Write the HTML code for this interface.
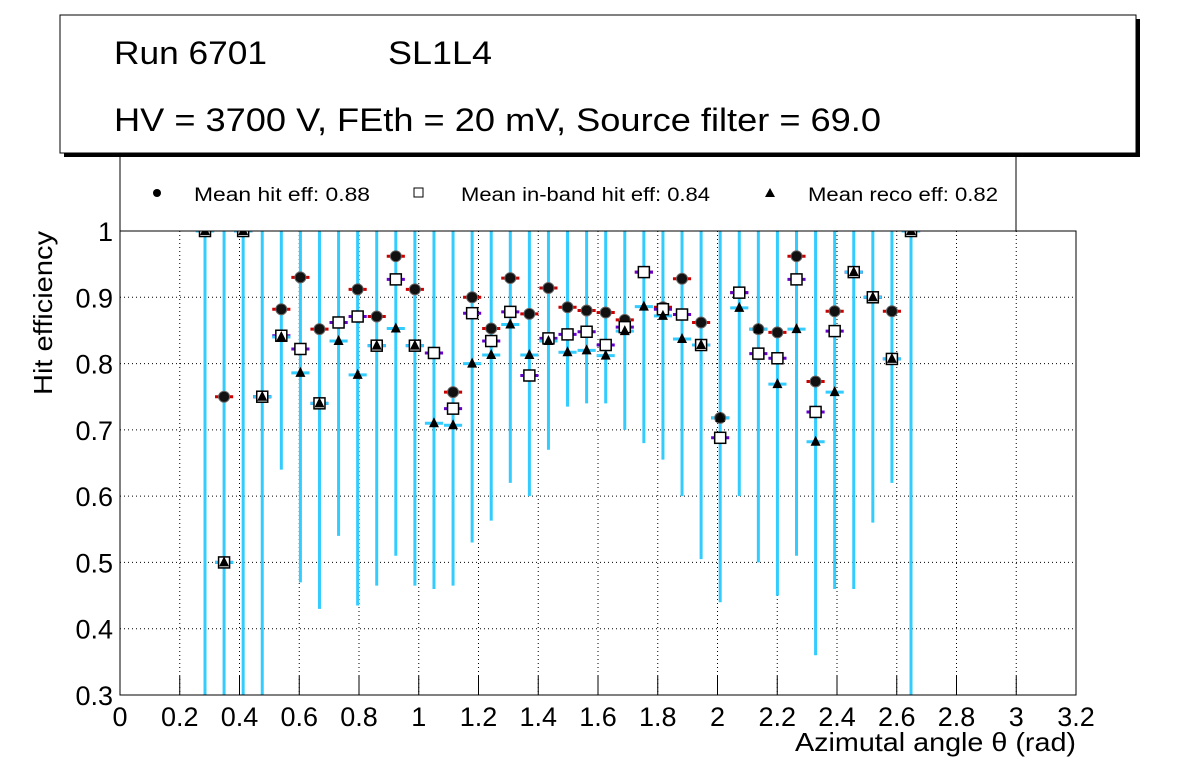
<!DOCTYPE html>
<html><head><meta charset="utf-8"><style>
html,body{margin:0;padding:0;background:#fff;}
svg{display:block;font-family:"Liberation Sans",sans-serif;}
</style></head><body>
<svg id="chart" width="1196" height="772" viewBox="0 0 1196 772">
<defs><clipPath id="frameclip"><rect x="120" y="231" width="956" height="464"/></clipPath></defs>
<rect x="64" y="19" width="1076" height="138" fill="#000"/>
<rect x="60" y="15" width="1076" height="138" fill="#fff" stroke="#000" stroke-width="1"/>
<text x="114" y="64" font-size="32" textLength="153" lengthAdjust="spacingAndGlyphs">Run 6701</text>
<text x="388" y="64" font-size="32" textLength="104" lengthAdjust="spacingAndGlyphs">SL1L4</text>
<text x="114" y="131" font-size="32" textLength="767" lengthAdjust="spacingAndGlyphs">HV = 3700 V, FEth = 20 mV, Source filter = 69.0</text>
<g>
<line x1="120" y1="157" x2="120" y2="231" stroke="#000"/>
<line x1="1016" y1="157" x2="1016" y2="231" stroke="#000"/>
<circle cx="157" cy="193" r="4" fill="#000"/>
<text x="194" y="201" font-size="19" textLength="176" lengthAdjust="spacingAndGlyphs">Mean hit  eff: 0.88</text>
<rect x="414" y="188" width="9" height="9" fill="#fff" stroke="#000"/>
<text x="461" y="201" font-size="19" textLength="249" lengthAdjust="spacingAndGlyphs">Mean in-band hit eff: 0.84</text>
<polygon points="770,188 775,197 765,197" fill="#000"/>
<text x="808" y="201" font-size="19" textLength="190" lengthAdjust="spacingAndGlyphs">Mean reco eff: 0.82</text>
</g>
<g id="grid"></g>
<g id="marks" clip-path="url(#frameclip)"></g>
<rect x="120" y="231" width="956" height="464" fill="none" stroke="#000"/>
<g id="axes"></g>
<text x="795" y="751" font-size="26" textLength="281" lengthAdjust="spacingAndGlyphs">Azimutal angle θ (rad)</text>
<text transform="translate(52,231) rotate(-90)" font-size="26" text-anchor="end" textLength="164" lengthAdjust="spacingAndGlyphs">Hit efficiency</text>
</svg>
<script>
const xStart = 0.2845, binW = 0.06387;
const hitEff = [1,0.75,1,0.75,0.882,0.93,0.852,0.862,0.912,0.871,0.962,0.912,0.816,0.757,0.9,0.853,0.929,0.875,0.914,0.885,0.88,0.877,0.866,0.938,0.885,0.928,0.862,0.718,0.907,0.852,0.847,0.962,0.773,0.879,0.938,0.9,0.879,1];
const inbandEff = [1,0.5,1,0.75,0.842,0.822,0.74,0.862,0.871,0.827,0.927,0.827,0.816,0.732,0.876,0.834,0.878,0.782,0.838,0.844,0.848,0.828,0.855,0.938,0.882,0.874,0.828,0.688,0.907,0.815,0.808,0.927,0.727,0.849,0.938,0.9,0.807,1];
const recoEff = [1,0.5,1,0.75,0.84,0.786,0.74,0.834,0.783,0.827,0.853,0.827,0.71,0.707,0.80,0.813,0.859,0.813,0.834,0.817,0.82,0.812,0.849,0.886,0.872,0.837,0.828,0.718,0.884,0.852,0.769,0.852,0.682,0.757,0.938,0.9,0.807,1];
const recoLow = [0.3,0.3,0.3,0.3,0.64,0.47,0.43,0.54,0.435,0.465,0.51,0.465,0.46,0.465,0.53,0.563,0.62,0.6,0.67,0.735,0.74,0.74,0.70,0.68,0.655,0.60,0.505,0.44,0.60,0.50,0.45,0.51,0.36,0.46,0.46,0.56,0.62,0.3];
const xTicks = [0,0.2,0.4,0.6,0.8,1,1.2,1.4,1.6,1.8,2,2.2,2.4,2.6,2.8,3,3.2];
const xTickLabels = ["0","0.2","0.4","0.6","0.8","1","1.2","1.4","1.6","1.8","2","2.2","2.4","2.6","2.8","3","3.2"];
const yTicks = [0.3,0.4,0.5,0.6,0.7,0.8,0.9,1];
const yTickLabels = ["0.3","0.4","0.5","0.6","0.7","0.8","0.9","1"];

const NS = "http://www.w3.org/2000/svg";
const X = v => 120 + v * (956 / 3.2);
const Y = v => 695 - (v - 0.3) * (464 / 0.7);
function mk(tag, attrs, parent) {
  const e = document.createElementNS(NS, tag);
  for (const k in attrs) e.setAttribute(k, attrs[k]);
  parent.appendChild(e);
  return e;
}
const grid = document.getElementById('grid');
const axes = document.getElementById('axes');
const marks = document.getElementById('marks');
xTicks.forEach((t, i) => {
  if (i > 0 && i < xTicks.length - 1) {
    const g = mk('line', {x1: X(t), x2: X(t), y1: 231, y2: 695, stroke: '#000', 'stroke-width': 1, 'stroke-dasharray': '1,3'}, grid);
    
    
  }
  const tk = mk('line', {x1: X(t), x2: X(t), y1: 695, y2: 676, stroke: '#000'}, axes);
  
  
  const lb = mk('text', {x: X(t), y: 726, 'font-size': 27, 'text-anchor': 'middle'}, axes);
  lb.textContent = xTickLabels[i];
  
  
});
yTicks.forEach((t, i) => {
  if (i > 0 && i < yTicks.length - 1) {
    const g = mk('line', {x1: 120, x2: 1076, y1: Y(t), y2: Y(t), stroke: '#000', 'stroke-width': 1, 'stroke-dasharray': '1,3'}, grid);
    
    
  }
  const lb = mk('text', {x: 113, y: Y(t) + 10, 'font-size': 27, 'text-anchor': 'end'}, axes);
  lb.textContent = yTickLabels[i];
  
  
});
const hw = binW / 2 * 0.95;
recoEff.forEach((v, i) => {
  const cx = xStart + i * binW;
  const vb = mk('line', {x1: X(cx), x2: X(cx), y1: Y(1), y2: Y(recoLow[i]), stroke: '#33ccff', 'stroke-width': 3}, marks);
  
  
});
function hbar(vals, color, name) {
  vals.forEach((v, i) => {
    const cx = xStart + i * binW;
    const l = mk('line', {x1: X(cx - hw), x2: X(cx + hw), y1: Y(v), y2: Y(v), stroke: color, 'stroke-width': 3}, marks);
    
    
  });
}
hbar(hitEff, '#cc0000', 'hit-x-error');
hbar(inbandEff, '#6600cc', 'inband-x-error');
hbar(recoEff, '#33ccff', 'reco-x-error');
hitEff.forEach((v, i) => {
  const cx = xStart + i * binW;
  const c = mk('circle', {cx: X(cx), cy: Y(v), r: 5.5, fill: '#111', stroke: '#666', 'stroke-width': 1}, marks);
  
  
});
inbandEff.forEach((v, i) => {
  const cx = xStart + i * binW;
  const r = mk('rect', {x: X(cx) - 5.5, y: Y(v) - 5.5, width: 11, height: 11, fill: '#fff', stroke: '#000', 'stroke-width': 1.5}, marks);
  
  
});
recoEff.forEach((v, i) => {
  const cx = X(xStart + i * binW), cy = Y(v);
  const p = mk('polygon', {points: `${cx},${cy - 6} ${cx + 5},${cy + 4} ${cx - 5},${cy + 4}`, fill: '#000'}, marks);
  
  
});
</script>
</body></html>
